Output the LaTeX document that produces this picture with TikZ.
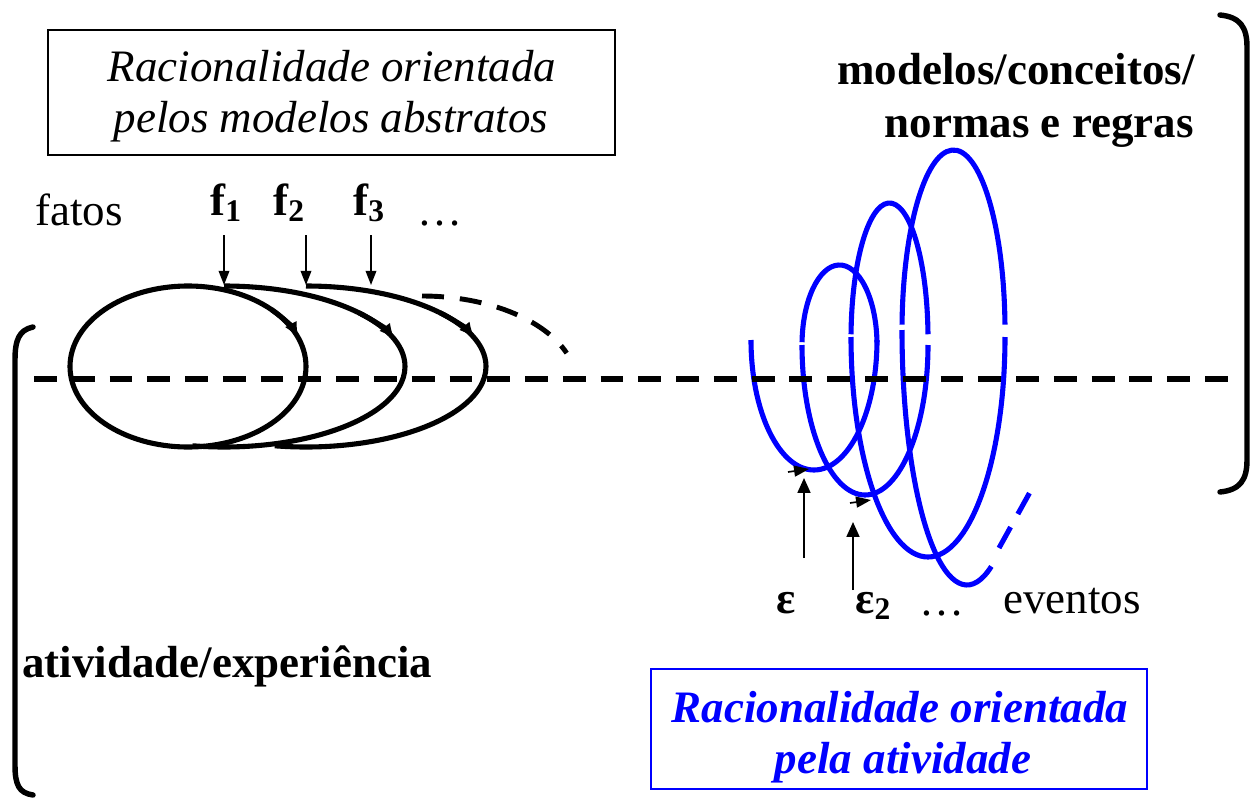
\documentclass[tikz,border=0pt]{standalone}
\usepackage{fontspec}
\setmainfont{Liberation Serif}
\usetikzlibrary{arrows.meta}
\definecolor{pblue}{RGB}{0,0,255}
\begin{document}
\begin{tikzpicture}[x=0.02cm,y=-0.02cm,
  txt/.style={inner sep=0pt, font=\fontsize{25.6}{30}\selectfont},
  curve/.style={line width=2.9pt},
  thinline/.style={line width=0.95pt},
  farrow/.style={thinline, -{Triangle[length=8pt,width=6pt]}},
  earrow/.style={thinline, -{Triangle[length=8.5pt,width=7.4pt]}},
  midarrow/.style={curve, -{Latex[length=9.6pt,width=7.6pt]}},
  brk/.style={line width=3.1pt, line cap=round},
  dashline/.style={line width=3.2pt, dash pattern=on 13pt off 8.5pt},
  dashcurve/.style={line width=2.8pt, dash pattern=on 12.5pt off 9.1pt},
  boxstyle/.style={draw, inner sep=0pt}
]
\useasboundingbox (0,0) rectangle (1251,801);

% ---------- boxes ----------
\node[boxstyle, thinline, minimum width=11.34cm, minimum height=2.5cm] (box1) at (331.5,92.5) {};
\node[txt, anchor=base, font=\fontsize{25.6}{30}\selectfont\itshape] (t1a) at (332,81) {Racionalidade orientada};
\node[txt, anchor=base, font=\fontsize{25.6}{30}\selectfont\itshape] (t1b) at (331,132) {pelos modelos abstratos};

\node[boxstyle, draw=pblue, line width=1pt, minimum width=9.92cm, minimum height=2.4cm] (box2) at (899,729) {};
\node[txt, anchor=base, text=pblue, font=\fontsize{25.6}{30}\selectfont\bfseries\itshape] (t2a) at (900,722) {Racionalidade orientada};
\node[txt, anchor=base, text=pblue, font=\fontsize{25.6}{30}\selectfont\bfseries\itshape] (t2b) at (903,773) {pela atividade};

% ---------- labels ----------
\node[txt, anchor=base east, font=\fontsize{25.6}{30}\selectfont\bfseries] (m1) at (1195,84) {modelos/conceitos/};
\node[txt, anchor=base east, font=\fontsize{25.6}{30}\selectfont\bfseries] (m2) at (1194,137) {normas e regras};
\node[txt, anchor=base west, font=\fontsize{25.6}{30}\selectfont\bfseries] (act) at (22,677) {atividade/experiência};

\node[txt, anchor=base west] (fatos) at (35,225) {fatos};
\node[txt, anchor=base west, font=\fontsize{25.6}{30}\selectfont\bfseries] (f1) at (210,215) {f\textsubscript{1}};
\node[txt, anchor=base west, font=\fontsize{25.6}{30}\selectfont\bfseries] (f2) at (273,215) {f\textsubscript{2}};
\node[txt, anchor=base west, font=\fontsize{25.6}{30}\selectfont\bfseries] (f3) at (353,215) {f\textsubscript{3}};
\node[txt, anchor=base west] (fdots) at (417,225) {…};

\node[txt, anchor=base west, font=\fontsize{25.6}{30}\selectfont\bfseries] (e1) at (776,613) {ε};
\node[txt, anchor=base west, font=\fontsize{25.6}{30}\selectfont\bfseries] (e2) at (855,613) {ε\textsubscript{2}};
\node[txt, anchor=base west] (edots) at (919,615) {…};
\node[txt, anchor=base west] (ev) at (1003,613) {eventos};

% ---------- ellipses (left) ----------
\coordinate (c1) at (188,366.5);
\coordinate (c2) at (224,366.5);
\coordinate (c3) at (306,366.5);
\draw[curve] (c1) ellipse [x radius=118, y radius=80.5];
\draw[curve] (224,286) arc[start angle=-90, end angle=100, x radius=181, y radius=80.5];
\draw[curve] (306,286) arc[start angle=-90, end angle=100, x radius=180, y radius=80.5];
\draw[midarrow] ([shift={(-45:118 and 80.5)}]c1) arc[start angle=-45, end angle=-20, x radius=118, y radius=80.5];
\draw[midarrow] ([shift={(-42:181 and 80.5)}]c2) arc[start angle=-42, end angle=-19, x radius=181, y radius=80.5];
\draw[midarrow] ([shift={(-42:180 and 80.5)}]c3) arc[start angle=-42, end angle=-20, x radius=180, y radius=80.5];
\draw[dashcurve] (422,296) arc[start angle=-90, end angle=-21, x radius=155, y radius=89];

% f arrows
\coordinate (fa1) at (224,235); \coordinate (fb1) at (224,285);
\coordinate (fa2) at (306,235); \coordinate (fb2) at (306,285);
\coordinate (fa3) at (371,235); \coordinate (fb3) at (371,285);
\draw[farrow] (fa1) -- (fb1);
\draw[farrow] (fa2) -- (fb2);
\draw[farrow] (fa3) -- (fb3);

% ---------- spiral (right) ----------
\begin{scope}[draw=pblue]
\draw[curve] (751,340) arc[start angle=180, end angle=0, x radius=63, y radius=130];
\draw[curve] (876.98,342.2) arc[start angle=-2, end angle=-178, x radius=37.5, y radius=80];
\draw[curve] (802,345) arc[start angle=180, end angle=0, x radius=63, y radius=150];
\draw[curve] (927.98,334.25) arc[start angle=-2, end angle=-178, x radius=38.5, y radius=136];
\draw[curve] (851,337) arc[start angle=180, end angle=0, x radius=77, y radius=220];
\draw[curve] (1004.97,324.7) arc[start angle=-2, end angle=-178, x radius=51.5, y radius=181];
\draw[curve] (902,330) arc[start angle=180, end angle=68, x radius=65, y radius=255];
\coordinate (sd1) at (999,548); \coordinate (sd2) at (1029.5,493);
\draw[curve, dash pattern=on 13.6pt off 8.5pt] (sd1) -- (sd2);
\end{scope}

% small markers on spiral
\coordinate (sm1a) at (788,472); \coordinate (sm1b) at (809,469);
\coordinate (sm2a) at (850,503); \coordinate (sm2b) at (871,500);
\draw[thinline, -{Triangle[length=8.5pt,width=6.2pt]}] (sm1a) -- (sm1b);
\draw[thinline, -{Triangle[length=8.5pt,width=6.2pt]}] (sm2a) -- (sm2b);

% epsilon arrows
\coordinate (ea1) at (804,558); \coordinate (eb1) at (804,478);
\coordinate (ea2) at (853,590); \coordinate (eb2) at (853,522);
\draw[earrow] (ea1) -- (eb1);
\draw[earrow] (ea2) -- (eb2);

% ---------- dashed base line ----------
\coordinate (dl) at (34,379); \coordinate (dr) at (1240,379);
\draw[dashline] (dl) -- (dr);

% ---------- brackets ----------
\coordinate (lb1) at (33,327); \coordinate (lb2) at (33,795);
\draw[brk] (lb1) .. controls (19,330) and (15,340) .. (15,360) -- (15,765) .. controls (15,785) and (19,793) .. (lb2);
\coordinate (rb1) at (1220,15); \coordinate (rb2) at (1220,492);
\draw[brk] (rb1) .. controls (1240,17) and (1247,27) .. (1247,47) -- (1247,460) .. controls (1247,480) and (1240,490) .. (rb2);
\end{tikzpicture}
\end{document}
